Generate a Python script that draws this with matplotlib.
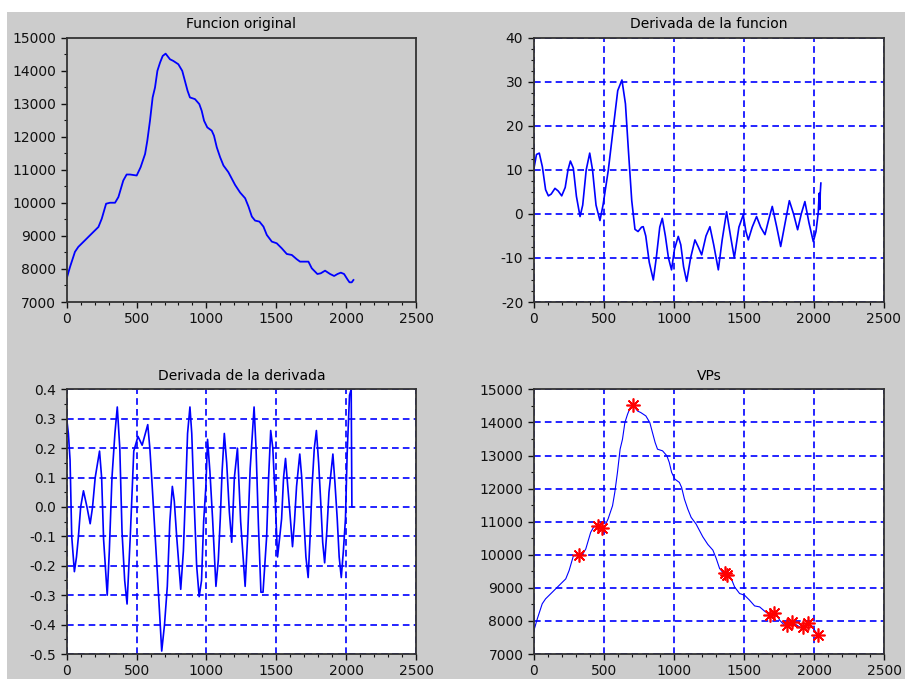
import matplotlib
matplotlib.use('Agg')
import matplotlib.pyplot as plt
from matplotlib.ticker import MultipleLocator, FormatStrFormatter
from matplotlib.patches import Rectangle

# funcion original (muestras)
orig_x = [0, 24, 59, 83, 131, 155, 191, 227, 251, 282, 310, 346, 370, 405, 429, 453,
          501, 529, 561, 577, 596, 615, 632, 649, 668, 687, 708, 739, 763, 799, 827,
          846, 865, 882, 918, 949, 966, 983, 1006, 1038, 1054, 1074, 1098, 1122, 1157,
          1205, 1241, 1277, 1301, 1325, 1348, 1379, 1408, 1432, 1468, 1503, 1539, 1575,
          1611, 1647, 1670, 1730, 1754, 1794, 1818, 1849, 1885, 1914, 1938, 1962, 1985,
          2009, 2024, 2040, 2052]
orig_y = [7714, 8065, 8518, 8668, 8869, 8970, 9121, 9271, 9523, 9975, 10005, 10005,
          10176, 10678, 10859, 10859, 10829, 11080, 11482, 11884, 12487, 13191, 13492,
          13995, 14246, 14447, 14517, 14347, 14297, 14196, 13995, 13693, 13392, 13191,
          13141, 12990, 12789, 12487, 12286, 12186, 12035, 11683, 11382, 11131, 10930,
          10545, 10313, 10141, 9889, 9586, 9465, 9434, 9283, 9030, 8828, 8778, 8626,
          8454, 8424, 8293, 8222, 8222, 8020, 7848, 7869, 7949, 7848, 7788, 7848, 7889,
          7848, 7687, 7596, 7596, 7667]

# derivada
der_x = [0, 20, 40, 62, 85, 105, 125, 152, 175, 200, 225, 245, 262, 283, 305, 331, 350,
         375, 400, 420, 445, 473, 495, 533, 570, 600, 630, 655, 676, 700, 723, 745, 770,
         782, 800, 825, 854, 875, 900, 918, 940, 962, 984, 1005, 1032, 1050, 1070, 1092,
         1120, 1151, 1175, 1199, 1230, 1258, 1285, 1318, 1345, 1377, 1405, 1432, 1465,
         1496, 1515, 1532, 1560, 1591, 1620, 1651, 1680, 1703, 1735, 1763, 1795, 1825,
         1855, 1884, 1910, 1936, 1965, 1996, 2015, 2031, 2038, 2042, 2046, 2050]
der_y = [10, 13.5, 13.8, 10.7, 5.5, 4.1, 4.5, 5.8, 5.2, 4.1, 6, 10, 12, 10.4, 4, -0.6, 2,
         10, 13.8, 10, 2, -1.5, 2, 10, 20, 28, 30.4, 25, 14.5, 3, -3.5, -4, -3, -2.9, -5,
         -11, -15, -10, -3, -1, -5, -10, -12.7, -8, -5.1, -7, -12, -15.3, -10, -5.9, -7.5,
         -9.3, -5, -2.9, -7, -12.7, -6, 0.5, -5, -10, -3, -0.2, -4, -5.9, -3, -0.6, -3,
         -4.7, -1, 1.7, -3, -7.4, -2, 3, 0, -3.6, 0, 2.8, -2, -6.3, -4, 0.2, 4.7, 1, 5, 7]

# derivada de la derivada
der2_x = [0, 12, 24, 36, 55, 70, 84, 100, 120, 145, 168, 185, 204, 235, 250, 264, 290,
          305, 324, 345, 362, 380, 396, 415, 432, 455, 480, 510, 540, 580, 595, 612, 648,
          680, 700, 720, 738, 756, 770, 787, 816, 835, 852, 865, 882, 895, 912, 930, 948,
          965, 980, 996, 1008, 1025, 1044, 1068, 1085, 1099, 1112, 1128, 1145, 1164, 1181,
          1200, 1222, 1245, 1277, 1295, 1313, 1341, 1355, 1372, 1390, 1405, 1431, 1445,
          1460, 1475, 1490, 1509, 1525, 1538, 1552, 1566, 1582, 1597, 1616, 1630, 1645,
          1668, 1682, 1697, 1712, 1728, 1742, 1756, 1772, 1787, 1803, 1818, 1832, 1846,
          1862, 1877, 1905, 1920, 1936, 1950, 1965, 1980, 1995, 2007, 2024, 2036, 2041, 2048]
der2_y = [0.30, 0.25, 0.16, -0.10, -0.22, -0.17, -0.10, 0.0, 0.055, 0.0, -0.057, 0.0,
          0.10, 0.19, 0.10, -0.11, -0.30, -0.15, 0.10, 0.25, 0.34, 0.20, -0.085, -0.25,
          -0.33, -0.10, 0.19, 0.24, 0.21, 0.28, 0.20, 0.07, -0.22, -0.49, -0.40, -0.27,
          -0.05, 0.07, 0.02, -0.10, -0.28, -0.15, 0.07, 0.25, 0.34, 0.25, 0.017, -0.20,
          -0.305, -0.25, -0.05, 0.07, 0.23, 0.12, -0.04, -0.27, -0.18, -0.04, 0.12, 0.25,
          0.15, -0.017, -0.12, 0.10, 0.20, -0.05, -0.27, -0.10, 0.13, 0.34, 0.20, -0.06,
          -0.29, -0.29, -0.10, 0.10, 0.26, 0.20, 0.05, -0.17, -0.10, -0.04, 0.10, 0.165,
          0.07, -0.017, -0.135, -0.05, 0.07, 0.18, 0.10, -0.04, -0.17, -0.24, -0.10, 0.07,
          0.20, 0.26, 0.15, 0.017, -0.12, -0.19, -0.08, 0.05, 0.18, 0.08, -0.04, -0.17,
          -0.24, -0.15, -0.04, 0.18, 0.38, 0.40, 0.0, 0.0]

# puntos VPs
vp_x = [321, 460, 483, 705, 1362, 1380, 1686, 1717, 1805, 1845, 1919, 1955, 2031]
vp_y = [9992, 10879, 10798, 14526, 9460, 9390, 8179, 8229, 7877, 7977, 7826, 7927, 7574]

titles = ['Funcion original', 'Derivada de la funcion', 'Derivada de la derivada', 'VPs']

plt.rcParams['font.family'] = ['DejaVu Sans']
plt.rcParams['axes.unicode_minus'] = False

gray = '#cccccc'
fig = plt.figure(figsize=(9.05, 6.79), dpi=100, facecolor='white')
fig.patches.append(Rectangle((0.0077, 0), 1, 0.9823, transform=fig.transFigure,
                             facecolor=gray, edgecolor='none', zorder=-10))

ax1 = fig.add_axes([0.0737, 0.5552, 0.386, 0.3893])
ax2 = fig.add_axes([0.5897, 0.5552, 0.387, 0.3893])
ax3 = fig.add_axes([0.0737, 0.0368, 0.386, 0.3898])
ax4 = fig.add_axes([0.5900, 0.0368, 0.387, 0.3898])

ax1.plot(orig_x, orig_y, color='blue', lw=1.3)
ax2.plot(der_x, der_y, color='blue', lw=1.2)
ax3.plot(der2_x, der2_y, color='blue', lw=1.2)
ax4.plot(orig_x, orig_y, color='blue', lw=0.8)
ax4.plot(vp_x, vp_y, ls='none', marker=(8, 2, 0), color='red', ms=10, mew=1.2)

ax1.set_ylim(7000, 15000)
ax2.set_ylim(-20, 40)
ax3.set_ylim(-0.5, 0.4)
ax4.set_ylim(7000, 15000)

ax1.yaxis.set_major_locator(MultipleLocator(1000))
ax1.yaxis.set_minor_locator(MultipleLocator(500))
ax2.yaxis.set_major_locator(MultipleLocator(10))
ax2.yaxis.set_minor_locator(MultipleLocator(2.5))
ax3.yaxis.set_major_locator(MultipleLocator(0.1))
ax3.yaxis.set_minor_locator(MultipleLocator(0.05))
ax3.yaxis.set_major_formatter(FormatStrFormatter('%.1f'))
ax4.yaxis.set_major_locator(MultipleLocator(1000))
ax4.yaxis.set_minor_locator(MultipleLocator(500))

for i, ax in enumerate([ax1, ax2, ax3, ax4]):
    ax.set_xlim(0, 2500)
    ax.xaxis.set_major_locator(MultipleLocator(500))
    ax.xaxis.set_minor_locator(MultipleLocator(100))
    ax.set_title(titles[i], fontsize=10, pad=7)
    ax.tick_params(which='both', direction='out', labelsize=10, colors='#111111')
    ax.tick_params(which='major', length=4, width=1)
    ax.tick_params(which='minor', length=2.5, width=0.8)
    for s in ax.spines.values():
        s.set_linewidth(1.3)
        s.set_color('#333333')
    if i == 0:
        ax.set_facecolor(gray)
    else:
        ax.set_facecolor('white')
        ax.grid(True, which='major', color='blue', lw=1.2, ls=(0, (4, 2.5)))

plt.savefig('out.png', dpi=100, facecolor='white')
